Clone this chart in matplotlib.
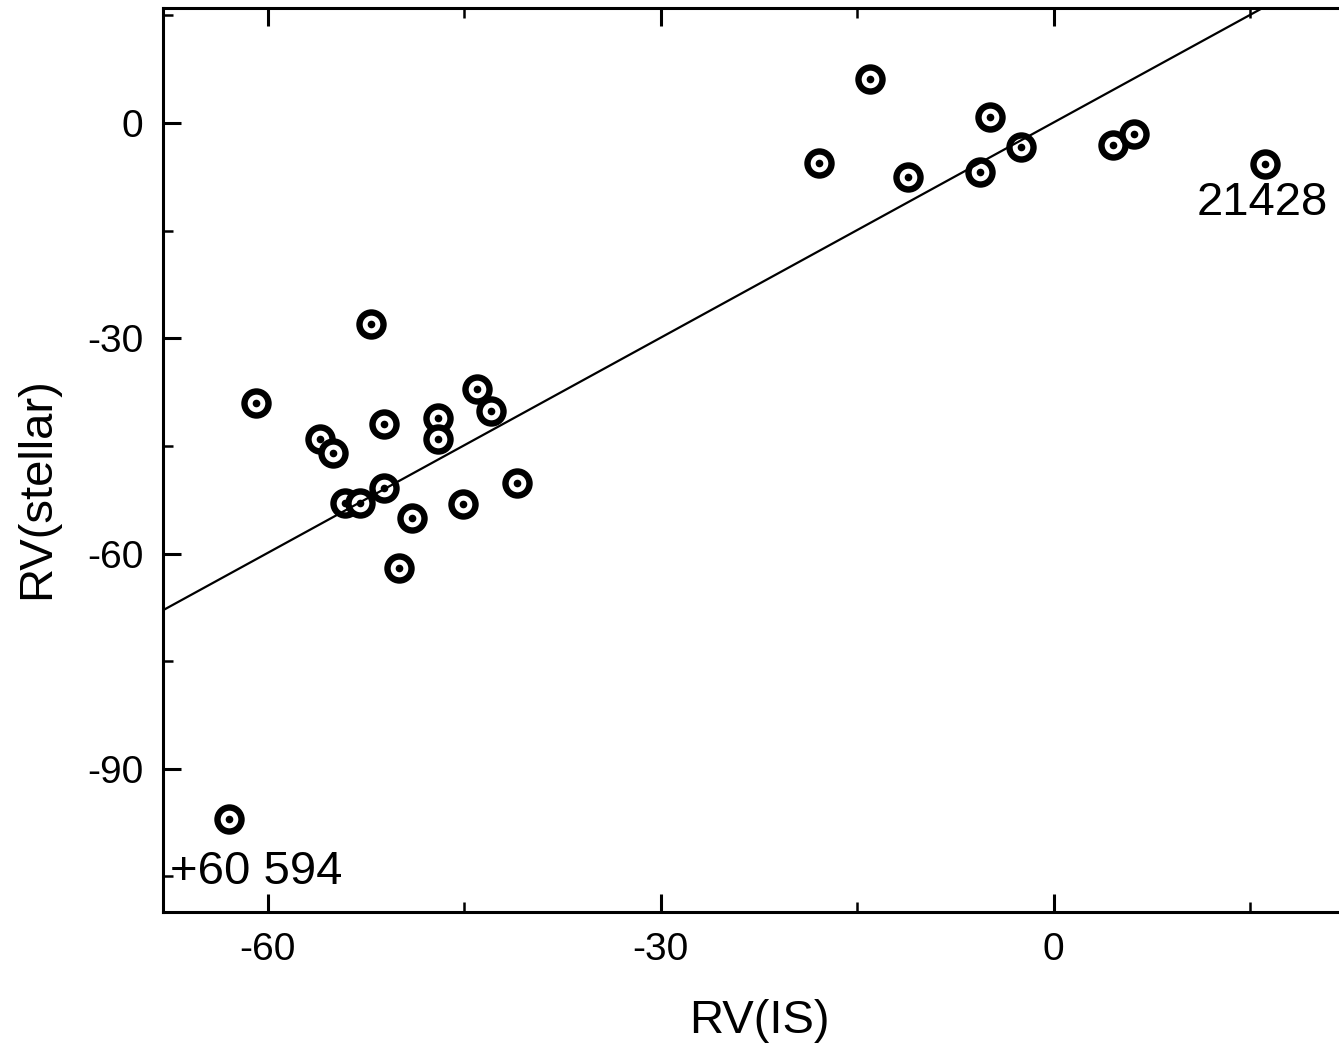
import matplotlib
matplotlib.use("Agg")
import matplotlib.pyplot as plt
from matplotlib.ticker import MultipleLocator

plt.rcParams['font.family'] = ['Liberation Sans', 'DejaVu Sans']
plt.rcParams['axes.unicode_minus'] = False

rv_is = [-63.0, -60.9, -56.0, -55.0, -54.1, -53.0, -52.1, -51.1, -51.1, -50.0,
         -49.0, -47.0, -47.0, -45.1, -44.0, -43.0, -41.0, -17.9, -14.0, -11.1,
         -5.6, -4.9, -2.5, 4.5, 6.1, 16.1]
rv_stellar = [-97.0, -39.0, -44.1, -46.0, -53.0, -53.0, -28.0, -42.0, -50.9, -62.0,
              -55.0, -41.1, -44.1, -53.1, -37.1, -40.1, -50.1, -5.6, 6.1, -7.5,
              -6.8, 0.85, -3.4, -3.05, -1.56, -5.7]

fit_slope = 1.0
fit_intercept = 0.1

labels = ["21428", "+60 594"]
label_x = [10.9, -67.5]
label_y = [-12.8, -106.1]

xlim = (-68, 22)
ylim = (-110, 16)

fig = plt.figure(figsize=(13.39, 10.49), dpi=100)
W, H = 1339, 1049
left, right, top, bottom = 163, 1342, 8.3, 912.3
ax = fig.add_axes([left / W, 1 - bottom / H, (right - left) / W, (bottom - top) / H])

ax.plot(rv_is, rv_stellar, linestyle='none', marker='o', ms=17.3, mew=4.6,
        mec='black', mfc='white', zorder=2)
ax.plot(rv_is, rv_stellar, linestyle='none', marker='o', ms=5.5, mew=0,
        mfc='black', zorder=3)

xs = [xlim[0], xlim[1]]
ax.plot(xs, [fit_slope * x + fit_intercept for x in xs], color='black', lw=1.6, zorder=4)

for t, x, y in zip(labels, label_x, label_y):
    ax.text(x, y, t, fontsize=34, ha='left', va='baseline', zorder=5)

ax.set_xlim(*xlim)
ax.set_ylim(*ylim)
ax.xaxis.set_major_locator(MultipleLocator(30))
ax.xaxis.set_minor_locator(MultipleLocator(15))
ax.yaxis.set_major_locator(MultipleLocator(30))
ax.yaxis.set_minor_locator(MultipleLocator(15))

ax.tick_params(which='both', direction='in', top=True, right=False, width=2.2, colors='black')
ax.tick_params(which='major', length=13)
ax.tick_params(which='minor', length=7, width=1.8)
ax.tick_params(axis='x', which='major', labelsize=28, pad=14)
ax.tick_params(axis='y', which='major', labelsize=28, pad=14)

for s in ax.spines.values():
    s.set_linewidth(2.2)

ax.set_xlabel("RV(IS)", fontsize=34)
ax.set_ylabel("RV(stellar)", fontsize=34)
ax.xaxis.label.set_va('center')
ax.yaxis.label.set_va('center')
ax.xaxis.set_label_coords(0.506, -0.1202)
ax.yaxis.set_label_coords(-0.107, 0.4694)

fig.savefig("out.png", dpi=100)
